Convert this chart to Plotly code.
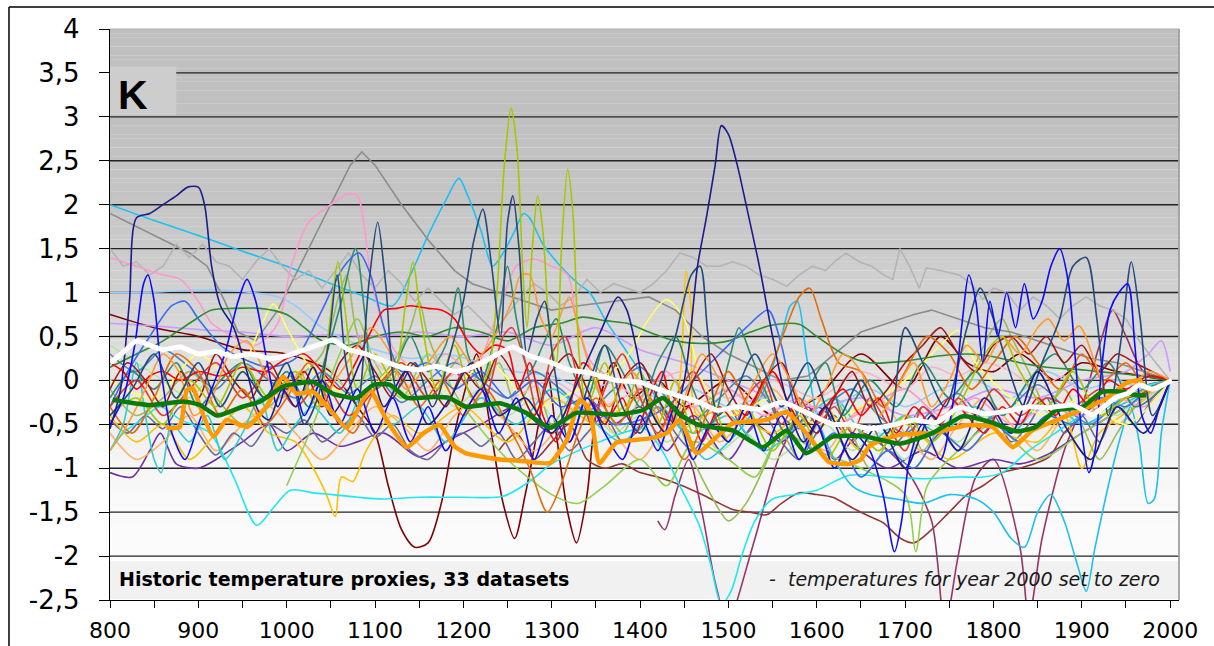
import numpy as np
import plotly.graph_objects as go

# ---------------- axes ----------------
X_TICKS = [800, 850, 900, 950, 1000, 1050, 1100, 1150, 1200, 1250, 1300, 1350, 1400,
           1450, 1500, 1550, 1600, 1650, 1700, 1750, 1800, 1850, 1900, 1950, 2000]
X_TICK_TEXT = ['800', '', '900', '', '1000', '', '1100', '', '1200', '', '1300', '', '1400',
               '', '1500', '', '1600', '', '1700', '', '1800', '', '1900', '', '2000']
Y_TICKS = [-2.5, -2, -1.5, -1, -0.5, 0, 0.5, 1, 1.5, 2, 2.5, 3, 3.5, 4]
Y_TICK_TEXT = ['-2,5', '-2', '-1,5', '-1', '-0,5', '0', '0,5', '1', '1,5', '2', '2,5', '3', '3,5', '4']

# ---------------- proxy series (year, anomaly K) ----------------
navy = [(800,-0.55),(812,-0.1),(822,0.9),(830,1.85),(845,1.9),(860,2.0),(875,2.1),(888,2.2),(900,2.2),
        (907,2.0),(915,1.3),(925,0.85),(940,0.6),(955,0.1),(968,-0.35),(980,-0.45),(995,-0.1),(1010,-0.3),
        (1030,0.15),(1050,-0.4),(1070,-0.1),(1090,0.3),(1110,-0.3),(1135,0.1),(1160,-0.5),(1185,-0.2),
        (1210,0.2),(1240,-0.4),(1270,-0.2),(1300,-0.6),(1330,0.0),(1355,0.55),(1375,0.95),(1385,0.8),
        (1395,0.4),(1410,-0.3),(1430,-0.6),(1450,0.0),(1465,1.3),(1475,1.85),(1485,2.45),(1492,2.9),
        (1500,2.8),(1510,2.45),(1520,2.0),(1535,1.3),(1550,0.5),(1565,-0.2),(1585,-0.7),(1610,-0.3),
        (1640,-0.9),(1670,-0.5),(1700,-1.0),(1730,-0.4),(1760,-0.8),(1790,-0.2),(1820,-0.6),(1850,0.1),
        (1880,-0.5),(1910,-0.9),(1940,-0.3),(1970,-0.6),(2000,0.0)]
slate = [(800,-0.4),(825,-0.1),(850,0.3),(875,-0.2),(900,0.2),(925,-0.3),(950,0.1),(975,-0.2),(1000,0.2),
         (1020,-0.5),(1035,-0.2),(1047,0.4),(1057,1.2),(1067,0.2),(1080,-0.3),(1093,1.1),(1103,1.8),(1112,1.1),
         (1125,-0.1),(1145,0.2),(1165,-0.3),(1185,0.3),(1200,0.9),(1212,1.6),(1222,1.95),(1232,1.3),(1242,0.5),
         (1250,1.8),(1256,2.1),(1263,1.5),(1272,0.3),(1283,0.7),(1292,0.9),(1302,0.2),(1320,-0.7),(1340,-0.1),
         (1360,0.4),(1380,-0.3),(1400,-0.6),(1420,-0.1),(1440,0.5),(1458,1.2),(1468,1.3),(1476,0.6),(1488,-0.4),
         (1505,-0.2),(1530,0.3),(1560,-0.3),(1590,0.2),(1620,-0.5),(1650,0.0),(1680,-0.6),(1700,0.6),(1720,0.2),
         (1745,-0.3),(1770,0.6),(1785,1.05),(1800,0.7),(1815,0.2),(1835,-0.3),(1855,0.2),(1875,0.7),(1890,1.3),
         (1905,1.4),(1917,0.7),(1930,-0.4),(1945,0.5),(1956,1.35),(1966,0.7),(1980,-0.4),(2000,0.0)]
blue = [(800,-0.5),(815,-0.2),(828,0.4),(838,1.1),(843,1.2),(850,0.9),(858,0.1),(870,-0.6),(885,-0.9),(900,-0.5),
        (915,-0.1),(930,0.3),(945,0.9),(955,1.15),(965,0.9),(978,0.2),(990,-0.3),(1005,0.1),(1020,-0.4),(1040,0.0),
        (1060,-0.5),(1080,-0.1),(1100,-0.6),(1120,-0.2),(1140,-0.7),(1160,-0.3),(1180,-0.8),(1200,-0.4),(1220,-0.1),
        (1240,-0.6),(1260,-0.2),(1280,-0.9),(1300,-0.4),(1320,-0.7),(1340,-0.2),(1360,-0.6),(1380,-0.9),(1400,-0.4),
        (1420,-0.8),(1440,-0.3),(1460,-0.9),(1480,-0.5),(1500,-0.7),(1520,-0.3),(1540,-0.8),(1560,-0.4),(1580,-0.9),
        (1600,-0.5),(1620,-1.0),(1640,-0.6),(1660,-0.8),(1675,-1.3),(1688,-1.95),(1696,-1.6),(1705,-0.9),(1720,-0.5),
        (1740,-0.9),(1755,-0.2),(1765,0.7),(1772,1.2),(1780,0.9),(1788,0.2),(1796,0.9),(1805,0.5),(1815,1.0),
        (1825,0.6),(1835,1.1),(1845,0.7),(1855,0.9),(1865,1.3),(1875,1.5),(1885,1.1),(1893,0.2),(1900,-0.6),
        (1908,-1.05),(1915,-0.8),(1922,0.1),(1932,0.8),(1942,1.0),(1952,1.1),(1960,0.4),(1968,-0.4),(1978,-0.6),
        (1988,-0.3),(2000,0.0)]
royal = [(800,-0.3),(820,0.1),(845,0.5),(870,0.85),(885,0.9),(900,0.7),(925,0.4),(950,0.25),(980,0.15),(1010,0.25),
         (1040,0.8),(1065,1.3),(1082,1.45),(1095,1.2),(1110,0.6),(1130,0.1),(1160,0.2),(1190,-0.1),(1220,0.1),
         (1250,-0.2),(1280,0.0),(1310,-0.3),(1340,-0.2),(1370,-0.5),(1400,-0.45),(1430,-0.3),(1460,0.0),(1490,0.3),
         (1520,0.6),(1545,0.8),(1560,0.4),(1575,-0.3),(1595,-0.8),(1620,-0.6),(1650,-1.1),(1680,-0.8),(1710,-1.0),
         (1740,-0.6),(1770,-0.8),(1800,-0.5),(1830,-0.7),(1860,-0.4),(1890,-0.5),(1920,-0.2),(1950,-0.3),
         (1975,-0.1),(2000,0.0)]
silver = [(800,1.5),(815,1.3),(830,1.35),(845,1.2),(860,1.3),(875,1.55),(890,1.4),(905,1.55),(920,1.35),(935,1.3),
          (950,1.15),(965,1.35),(980,1.5),(995,1.3),(1010,1.15),(1025,1.25),(1040,1.05),(1055,1.25),(1070,1.45),
          (1085,1.2),(1100,1.05),(1115,1.25),(1130,1.1),(1145,0.9),(1160,1.05),(1175,0.9),(1190,0.75),(1205,0.85),
          (1220,0.7),(1235,0.55),(1250,0.75),(1265,0.95),(1280,1.1),(1295,1.0),(1310,0.85),(1325,0.95),(1340,1.15),
          (1355,1.0),(1370,1.1),(1385,1.05),(1400,1.0),(1415,1.1),(1430,1.25),(1445,1.45),(1460,1.4),(1475,1.3),
          (1490,1.3),(1505,1.35),(1520,1.3),(1535,1.2),(1550,1.15),(1566,1.07),(1580,1.2),(1595,1.3),(1610,1.25),
          (1620,1.35),(1633,1.45),(1648,1.35),(1662,1.3),(1676,1.2),(1686,1.15),(1694,1.5),(1705,1.3),(1716,1.05),
          (1724,1.28),(1740,1.25),(1761,1.2),(1775,1.1),(1788,0.92),(1800,1.05),(1815,1.0),(1830,0.8),(1845,0.95),
          (1860,0.85),(1875,0.7),(1890,0.85),(1905,0.95),(1920,0.85),(1935,0.8),(1950,0.7),(1965,0.45),
          (1980,0.25),(2000,0.0)]
gray = [(800,1.9),(830,1.75),(860,1.6),(890,1.45),(910,1.3),(930,0.9),(945,0.55),(965,0.45),(990,0.8),(1020,1.4),
        (1050,2.0),(1072,2.45),(1085,2.6),(1100,2.45),(1130,2.0),(1160,1.6),(1190,1.25),(1210,1.1),(1240,1.0),
        (1270,0.9),(1300,0.8),(1330,0.85),(1370,0.9),(1410,0.95),(1440,0.8),(1470,0.5),(1500,0.3),(1530,0.15),
        (1560,0.0),(1590,0.05),(1620,0.3),(1650,0.55),(1680,0.65),(1710,0.75),(1730,0.8),(1760,0.7),(1790,0.6),
        (1820,0.55),(1850,0.45),(1880,0.35),(1910,0.25),(1940,0.2),(1970,0.1),(2000,0.0)]
pink = [(800,1.4),(830,1.3),(860,1.2),(880,1.15),(900,0.9),(915,0.65),(940,0.5),(965,0.4),(990,0.65),(1005,1.3),
        (1025,1.8),(1050,2.0),(1068,2.12),(1080,2.1),(1095,1.2),(1110,0.6),(1125,0.3),(1150,0.1),(1180,0.3),
        (1210,0.1),(1240,0.8),(1260,1.3),(1280,1.38),(1300,1.3),(1318,1.2),(1328,0.7),(1345,0.2),(1370,0.0),
        (1400,-0.2),(1430,0.1),(1460,-0.3),(1500,-0.1),(1540,-0.4),(1580,-0.2),(1620,-0.5),(1660,-0.3),(1700,-0.1),
        (1740,-0.4),(1780,-0.2),(1820,-0.5),(1860,-0.3),(1900,-0.4),(1940,-0.2),(1970,-0.3),(2000,0.0)]
yellowgreen = [(800,-0.4),(830,-0.2),(860,-0.5),(890,0.0),(920,-0.3),(950,0.2),(980,-0.2),(1010,0.1),(1035,-0.3),
               (1048,0.6),(1058,1.35),(1066,0.8),(1080,-0.1),(1100,0.3),(1120,0.0),(1135,0.9),(1143,1.35),(1152,0.7),
               (1170,-0.1),(1190,0.4),(1210,-0.2),(1228,0.1),(1238,1.0),(1246,2.4),(1254,3.1),(1261,2.6),(1267,1.3),
               (1272,0.6),(1278,1.5),(1284,2.1),(1290,1.7),(1298,0.5),(1305,0.2),(1311,1.5),(1318,2.4),(1324,1.9),
               (1331,0.3),(1340,-0.3),(1360,0.2),(1380,-0.4),(1400,0.1),(1420,-0.5),(1440,0.0),(1460,-0.6),(1480,-0.2),
               (1500,-0.7),(1520,-0.3),(1550,-0.8),(1580,-0.4),(1610,-0.9),(1640,-0.5),(1670,-0.8),(1700,-0.4),
               (1730,-0.7),(1760,-0.3),(1790,0.3),(1810,0.5),(1830,0.1),(1860,-0.3),(1890,0.1),(1920,-0.4),
               (1950,-0.2),(2000,0.0)]
green = [(800,0.15),(830,0.3),(860,0.45),(890,0.65),(915,0.8),(940,0.82),(970,0.82),(1000,0.75),(1020,0.6),
         (1040,0.45),(1070,0.4),(1100,0.5),(1130,0.55),(1160,0.5),(1190,0.6),(1220,0.55),(1250,0.45),(1280,0.6),
         (1310,0.65),(1335,0.72),(1360,0.68),(1385,0.65),(1410,0.55),(1440,0.45),(1470,0.42),(1500,0.45),
         (1525,0.55),(1550,0.63),(1580,0.64),(1600,0.5),(1630,0.3),(1660,0.2),(1700,0.22),(1740,0.28),(1770,0.3),
         (1800,0.27),(1830,0.2),(1860,0.15),(1900,0.12),(1940,0.08),(1975,0.04),(2000,0.0)]
seagreen = [(800,-0.2),(825,0.1),(850,-0.1),(875,0.2),(900,-0.3),(925,0.0),(950,0.2),(975,-0.2),(1000,0.1),
            (1025,-0.3),(1045,0.3),(1062,0.9),(1078,1.5),(1088,0.8),(1100,-0.1),(1120,0.1),(1140,0.5),(1160,0.1),
            (1180,0.4),(1194,1.05),(1205,0.3),(1220,0.0),(1238,0.6),(1250,1.3),(1260,0.7),(1275,0.1),(1290,0.4),
            (1305,0.7),(1320,0.2),(1340,-0.2),(1360,0.4),(1380,0.1),(1400,-0.3),(1420,0.2),(1440,0.5),(1460,-0.1),
            (1480,-0.5),(1500,0.2),(1512,0.6),(1525,0.3),(1545,-0.2),(1565,-0.6),(1590,-0.1),(1610,0.2),(1630,-0.4),
            (1660,0.0),(1690,-0.3),(1720,0.2),(1750,-0.2),(1780,0.1),(1810,-0.4),(1840,0.0),(1870,0.3),(1900,-0.1),
            (1930,0.2),(1960,-0.3),(2000,0.0)]
orange = [(800,-0.8),(820,-0.5),(840,-0.1),(860,0.3),(878,0.1),(895,-0.4),(915,-0.2),(935,0.3),(955,0.45),(975,0.1),
          (995,-0.2),(1015,0.1),(1035,-0.3),(1055,0.0),(1075,0.3),(1095,0.6),(1115,0.35),(1135,-0.1),(1160,0.2),
          (1185,0.5),(1210,0.2),(1235,0.5),(1255,0.9),(1265,1.2),(1275,1.2),(1288,0.7),(1300,0.5),(1312,0.8),
          (1320,0.95),(1330,0.6),(1345,0.1),(1365,-0.3),(1390,0.1),(1410,-0.2),(1430,-0.6),(1450,-0.2),(1470,0.3),
          (1490,0.0),(1510,-0.4),(1530,0.0),(1550,0.3),(1570,0.0),(1590,-0.4),(1610,-0.1),(1630,0.3),(1650,0.1),
          (1670,-0.4),(1690,-0.1),(1710,0.2),(1730,-0.3),(1750,0.0),(1770,0.4),(1790,0.2),(1810,0.5),(1830,0.3),
          (1850,0.6),(1862,0.7),(1880,0.45),(1897,0.62),(1915,0.2),(1935,-0.3),(1955,-0.1),(1975,0.1),(2000,0.0)]
darkorange = [(800,-0.3),(825,-0.6),(850,-0.2),(875,0.3),(900,0.1),(925,-0.4),(950,-0.1),(975,-0.5),(1000,-0.2),
              (1025,0.2),(1050,-0.3),(1075,-0.6),(1100,-0.1),(1125,0.1),(1150,-0.3),(1175,0.0),(1200,-0.4),
              (1225,-0.1),(1250,-0.5),(1275,-1.0),(1295,-1.5),(1310,-1.2),(1330,-0.6),(1350,-0.2),(1375,-0.5),
              (1400,-0.1),(1425,-0.4),(1450,-0.9),(1475,-0.4),(1500,0.1),(1525,-0.3),(1550,0.2),(1565,0.6),
              (1580,0.95),(1592,1.05),(1605,0.7),(1625,0.2),(1650,0.1),(1675,-0.3),(1700,0.1),(1725,0.5),(1750,0.3),
              (1775,-0.1),(1800,0.2),(1825,0.5),(1850,0.2),(1875,-0.1),(1900,0.3),(1925,0.0),(1950,0.2),
              (1975,-0.1),(2000,0.0)]
gold = [(800,-0.4),(830,-0.7),(860,-0.5),(890,-0.9),(920,-0.6),(950,-0.3),(980,-0.6),(1010,-0.7),(1030,-1.0),
        (1045,-1.3),(1055,-1.55),(1062,-1.1),(1075,-1.15),(1090,-0.8),(1120,-0.4),(1150,-0.6),(1200,-0.3),
        (1250,-0.7),(1300,-0.2),(1350,-0.5),(1400,-0.2),(1430,-0.6),(1445,0.0),(1452,1.25),(1458,0.8),(1465,-0.4),
        (1500,-0.3),(1550,-0.6),(1600,-0.2),(1650,-0.8),(1700,-0.5),(1750,-0.9),(1800,-0.6),(1850,-0.7),
        (1880,-0.4),(1900,-1.0),(1920,-0.6),(1960,-0.3),(2000,0.0)]
yellow = [(800,0.0),(850,-0.2),(900,0.3),(940,0.0),(970,0.6),(985,0.87),(1000,0.6),(1030,0.1),(1080,-0.2),
          (1130,0.2),(1180,-0.1),(1230,0.2),(1280,-0.3),(1330,-0.1),(1380,0.2),(1410,0.7),(1430,0.92),(1450,0.7),
          (1470,0.0),(1500,-0.4),(1550,-0.2),(1600,-0.5),(1650,-0.3),(1700,0.0),(1740,0.4),(1760,0.57),(1780,0.2),
          (1820,-0.2),(1860,-0.4),(1900,-0.2),(1950,-0.5),(2000,0.0)]
red = [(800,0.2),(815,0.1),(830,-0.1),(845,0.05),(860,0.1),(880,0.0),(900,0.1),(925,0.05),(950,0.15),(975,0.1),
       (1000,0.25),(1020,0.3),(1040,0.1),(1060,-0.1),(1078,0.2),(1095,0.55),(1110,0.8),(1125,0.82),(1140,0.85),
       (1160,0.82),(1175,0.8),(1190,0.7),(1205,0.45),(1220,0.3),(1235,0.4),(1250,0.35),(1262,-0.1),(1275,0.2),
       (1290,-0.4),(1305,-0.7),(1320,-0.3),(1335,0.2),(1350,0.05),(1365,-0.4),(1380,-0.2),(1395,-0.6),(1410,-0.2),
       (1425,0.1),(1440,-0.5),(1455,-0.3),(1470,-0.7),(1490,-0.3),(1510,-0.5),(1530,-0.2),(1550,0.1),(1570,-0.3),
       (1590,-0.6),(1610,-0.3),(1630,-0.1),(1650,-0.4),(1670,-0.2),(1690,-0.6),(1710,-0.3),(1730,-0.5),(1750,-0.2),
       (1770,-0.4),(1790,-0.6),(1810,-0.3),(1830,-0.5),(1850,-0.2),(1870,-0.4),(1890,-0.1),(1910,-0.3),(1930,0.0),
       (1950,-0.1),(1975,0.05),(2000,0.0)]
maroon = [(800,0.75),(850,0.6),(900,0.5),(950,0.35),(1000,0.3),(1050,0.1),(1080,-0.3),(1100,-0.6),(1115,-1.2),
          (1130,-1.7),(1145,-1.9),(1160,-1.85),(1175,-1.4),(1190,-0.6),(1205,0.0),(1215,0.3),(1230,-0.5),
          (1245,-1.4),(1258,-1.8),(1270,-1.3),(1285,-0.5),(1295,0.1),(1305,-0.6),(1318,-1.5),(1328,-1.85),
          (1340,-1.3),(1350,-0.4),(1370,0.2),(1390,-0.2),(1420,0.0),(1450,-0.3),(1500,0.0),(1550,-0.4),(1600,-0.2),
          (1650,0.3),(1700,-0.1),(1740,0.5),(1770,0.2),(1800,0.1),(1830,0.3),(1870,0.0),(1900,0.2),(1940,0.1),
          (2000,0.0)]
brown = [(1240,-0.8),(1260,-0.6),(1280,-0.9),(1300,-0.7),(1320,-0.5),(1340,-0.9),(1360,-1.0),(1380,-0.95),
         (1400,-1.05),(1420,-1.1),(1448,-1.2),(1470,-1.3),(1490,-1.4),(1505,-1.47),(1525,-1.5),(1543,-1.53),
         (1560,-1.4),(1580,-1.28),(1600,-1.3),(1618,-1.33),(1640,-1.45),(1660,-1.55),(1675,-1.62),(1695,-1.8),
         (1710,-1.85),(1730,-1.7),(1750,-1.5),(1770,-1.3),(1788,-1.2),(1810,-1.05),(1830,-1.0),(1863,-0.87),
         (1880,-0.6),(1900,-0.4),(1920,-0.25),(1950,-0.15),(1975,-0.05),(2000,0.0)]
purple = [(800,-1.05),(825,-1.1),(845,-0.8),(857,-0.6),(875,-0.95),(900,-1.0),(920,-0.9),(950,-0.7),(980,-0.5),
          (1000,-0.8),(1030,-0.6),(1060,-0.75),(1080,-0.7),(1110,-0.6),(1150,-0.87),(1180,-0.7),(1220,-0.5),
          (1260,-0.3),(1300,-0.6),(1340,-0.2),(1370,-0.5),(1400,-0.3),(1430,-0.8),(1460,-0.4),(1500,-0.9),
          (1530,-0.5),(1560,-0.7),(1600,-0.3),(1640,-0.7),(1680,-1.0),(1720,-0.8),(1760,-1.0),(1800,-0.9),
          (1830,-0.95),(1860,-0.85),(1900,-0.6),(1950,-0.3),(2000,0.0)]
plum = [(1420,-1.6),(1428,-1.7),(1440,-1.3),(1455,-0.9),(1470,-1.5),(1485,-2.3),(1500,-2.8),(1510,-2.5),
        (1530,-1.8),(1560,-0.8),(1590,-0.3),(1620,-0.9),(1650,-0.6),(1700,-1.0),(1730,-1.6),(1745,-2.8),
        (1760,-2.0),(1780,-1.1),(1800,-0.9),(1830,-1.9),(1840,-2.7),(1855,-1.8),(1880,-0.8),(1900,-0.3),
        (1920,0.4),(1935,0.8),(1950,0.5),(1970,0.1),(2000,0.0)]
lavender = [(800,0.65),(850,0.62),(900,0.58),(950,0.55),(1000,0.5),(1050,0.52),(1100,0.5),(1150,0.55),(1200,0.5),
            (1250,0.55),(1300,0.4),(1350,0.6),(1400,0.35),(1450,0.2),(1500,0.0),(1550,-0.2),(1600,-0.3),
            (1650,-0.2),(1700,-0.4),(1750,-0.3),(1800,-0.1),(1850,-0.2),(1900,0.0),(1950,0.1),(1975,0.3),
            (1990,0.45),(2000,0.1)]
lightblue = [(800,1.0),(840,1.0),(880,1.02),(920,1.03),(960,1.0),(990,0.95),(1010,0.85),(1040,0.6),(1070,0.45),
             (1100,0.35),(1140,0.25),(1180,0.3),(1220,0.2),(1260,0.1),(1300,0.05),(1340,-0.1),(1380,0.0),
             (1420,-0.2),(1460,-0.1),(1500,-0.3),(1540,-0.2),(1580,-0.4),(1620,-0.3),(1660,-0.1),(1700,-0.3),
             (1740,-0.1),(1780,0.0),(1820,-0.2),(1860,0.1),(1900,-0.1),(1940,0.0),(1970,-0.1),(2000,0.0)]
teal = [(800,-0.8),(815,-0.5),(830,0.2),(840,-0.4),(850,-0.9),(858,-1.05),(870,-0.5),(890,-0.7),(910,-0.4),
        (930,-0.9),(950,-0.6),(970,-0.2),(990,-0.8),(1010,-0.5),(1030,-0.3),(1060,-0.6),(1090,-0.1),(1120,-0.5),
        (1150,-0.3),(1180,-0.7),(1220,-0.2),(1260,-0.5),(1300,-0.1),(1340,-0.4),(1380,-0.7),(1420,-0.3),
        (1460,-0.6),(1500,-0.4),(1540,-0.8),(1580,-0.5),(1620,-0.2),(1660,-0.7),(1700,-0.4),(1740,-0.6),
        (1780,-0.3),(1820,-0.6),(1860,-0.2),(1900,-0.5),(1940,-0.3),(2000,0.0)]
aqua = [(800,-0.8),(815,-0.6),(835,-0.45),(857,-0.3),(880,-0.45),(913,-0.6),(940,-1.1),(966,-1.65),(985,-1.45),
        (1004,-1.25),(1030,-1.28),(1052,-1.3),(1080,-1.33),(1110,-1.35),(1150,-1.33),(1200,-1.33),(1245,-1.32),
        (1275,-1.15),(1300,-0.95),(1330,-0.8),(1354,-0.7),(1380,-0.6),(1405,-0.55),(1425,-0.8),(1445,-1.2),
        (1467,-1.65),(1480,-2.1),(1492,-2.55),(1503,-2.4),(1515,-2.0),(1530,-1.6),(1550,-1.35),(1575,-1.3),
        (1600,-1.25),(1637,-1.08),(1680,-1.1),(1720,-1.12),(1760,-1.1),(1788,-1.1),(1810,-1.05),(1840,-0.8),
        (1870,-0.6),(1900,-0.4),(1930,-0.3),(1960,-0.1),(2000,0.0)]
skyblue = [(800,2.0),(850,1.82),(900,1.65),(950,1.47),(1000,1.3),(1050,1.1),(1090,0.95),(1120,0.85),(1140,1.2),
           (1160,1.65),(1180,2.05),(1195,2.3),(1205,2.1),(1220,1.7),(1233,1.3),(1245,1.45),(1258,1.7),(1268,1.9),
           (1275,1.85),(1290,1.55),(1310,1.3),(1330,1.1),(1343,1.0),(1360,0.7),(1380,0.4),(1400,0.1),(1425,-0.3),
           (1450,-0.6),(1475,-0.9),(1500,-0.7),(1525,-0.4),(1545,0.0),(1560,0.5),(1570,0.85),(1578,0.9),(1588,0.3),
           (1600,-0.4),(1620,-0.9),(1640,-1.2),(1660,-1.3),(1690,-1.35),(1720,-1.4),(1750,-1.3),(1780,-1.35),
           (1800,-1.5),(1820,-1.8),(1835,-1.9),(1850,-1.5),(1865,-1.3),(1880,-1.6),(1895,-2.1),(1905,-2.4),
           (1915,-1.9),(1930,-1.2),(1945,-0.6),(1955,-0.3),(1965,-0.7),(1975,-1.4),(1982,-1.35),(1990,-0.6),
           (2000,0.0)]
lime = [(1000,-1.2),(1030,-0.5),(1060,0.3),(1080,0.7),(1100,0.2),(1130,-0.2),(1160,0.3),(1200,-0.3),(1250,-0.9),
        (1300,-1.3),(1330,-1.4),(1360,-1.2),(1400,-0.9),(1430,-1.2),(1460,-0.7),(1500,-0.9),(1530,-1.1),
        (1560,-0.6),(1600,-0.8),(1650,-1.0),(1700,-1.3),(1712,-1.95),(1725,-1.2),(1760,-0.8),(1800,-0.5),
        (1850,-0.9),(1900,-0.6),(1950,-0.3),(2000,0.0)]
palegreen = [(800,0.4),(830,0.2),(860,0.0),(890,-0.2),(920,0.1),(950,-0.1),(980,-0.3),(1010,0.0),(1040,0.2),
             (1070,-0.1),(1100,0.1),(1130,-0.2),(1160,0.0),(1190,-0.3),(1220,-0.1),(1250,-0.4),(1280,-0.2),
             (1310,-0.5),(1340,-0.3),(1370,-0.6),(1400,-0.4),(1430,-0.7),(1460,-0.5),(1490,-0.8),(1520,-0.6),
             (1550,-0.9),(1580,-0.7),(1610,-0.5),(1640,-0.8),(1670,-0.6),(1700,-0.9),(1730,-0.5),(1760,-0.7),
             (1790,-0.4),(1820,-0.6),(1850,-0.3),(1880,-0.5),(1910,-0.2),(1940,-0.4),(1970,-0.1),(2000,0.0)]
slategray = [(800,-0.45),(820,-0.6),(840,-0.4),(860,-0.55),(880,-0.3),(900,-0.6),(920,-0.85),(940,-0.6),
             (960,-0.75),(980,-0.5),(1000,-0.6),(1020,-0.45),(1040,-0.7),(1060,-0.55),(1080,-0.4),(1100,-0.65),
             (1120,-0.5),(1140,-0.8),(1160,-0.9),(1180,-0.7),(1200,-0.6),(1220,-0.75),(1240,-0.6),(1260,-0.9),
             (1280,-0.7),(1300,-0.5),(1320,-0.8),(1340,-0.6),(1360,-0.4),(1380,-0.7),(1400,-0.55),(1420,-0.3),
             (1440,-0.6),(1460,-0.8),(1480,-0.5),(1500,-0.3),(1520,-0.6),(1540,-0.4),(1560,-0.7),(1580,-0.9),
             (1600,-0.6),(1620,-0.4),(1640,-0.7),(1660,-0.5),(1680,-0.8),(1700,-0.6),(1720,-0.3),(1740,-0.5),
             (1760,-0.8),(1780,-0.6),(1800,-0.4),(1820,-0.7),(1840,-0.5),(1860,-0.2),(1880,-0.6),(1900,-0.4),
             (1920,-0.7),(1940,-0.3),(1960,-0.5),(1980,-0.2),(2000,0.0)]
darkred = [(800,-0.1),(820,0.2),(840,0.0),(860,-0.3),(880,0.1),(900,-0.2),(920,0.3),(940,0.0),(960,-0.2),
           (980,0.2),(1000,-0.1),(1020,0.1),(1040,-0.3),(1060,0.2),(1080,0.4),(1100,0.1),(1120,-0.2),(1140,0.2),
           (1160,0.0),(1180,-0.3),(1200,0.1),(1220,-0.1),(1240,0.3),(1260,0.0),(1280,-0.4),(1300,0.1),(1320,0.3),
           (1340,-0.1),(1360,-0.5),(1380,0.0),(1400,0.2),(1420,-0.2),(1440,-0.5),(1460,0.0),(1480,0.3),(1500,-0.1),
           (1520,-0.4),(1540,0.0),(1560,0.2),(1580,-0.3),(1600,-0.6),(1620,-0.2),(1640,0.1),(1660,-0.3),
           (1680,-0.1),(1700,0.2),(1720,0.4),(1740,0.6),(1760,0.3),(1780,0.1),(1800,0.4),(1820,0.5),(1840,0.3),
           (1860,0.5),(1880,0.2),(1900,0.4),(1920,0.1),(1940,0.3),(1960,0.2),(1980,0.1),(2000,0.0)]
scarlet = [(800,-0.3),(830,0.0),(860,-0.4),(890,-0.1),(920,0.2),(950,-0.2),(980,0.1),(1010,-0.3),(1040,0.0),
           (1070,-0.4),(1100,-0.1),(1130,0.2),(1160,-0.2),(1190,0.1),(1220,-0.3),(1245,0.5),(1255,0.6),(1270,0.2),
           (1285,-0.4),(1300,0.3),(1315,0.5),(1330,0.0),(1345,-0.5),(1360,-0.1),(1380,0.3),(1400,-0.2),
           (1420,-0.6),(1440,-0.2),(1460,0.1),(1480,-0.3),(1500,-0.7),(1520,-0.2),(1540,0.0),(1560,-0.5),
           (1580,-0.2),(1600,-0.5),(1620,-0.3),(1640,-0.6),(1660,-0.2),(1680,-0.5),(1700,-0.8),(1720,-0.3),
           (1740,-0.5),(1760,-0.2),(1780,-0.4),(1800,-0.1),(1830,-0.4),(1860,-0.2),(1890,-0.3),(1920,-0.1),
           (1950,-0.2),(1980,-0.1),(2000,0.0)]
apricot = [(800,-0.6),(830,-0.9),(860,-0.7),(890,-0.4),(920,-0.8),(950,-0.5),(980,-0.3),(1010,-0.6),(1040,-0.9),
           (1070,-0.6),(1100,-0.3),(1130,-0.5),(1160,-0.8),(1190,-0.4),(1220,-0.2),(1250,-0.5),(1280,-0.8),
           (1310,-0.5),(1340,-0.2),(1370,-0.6),(1400,-0.9),(1430,-0.5),(1460,-0.3),(1490,-0.7),(1520,-0.4),
           (1550,-0.1),(1580,-0.5),(1610,-0.8),(1640,-0.4),(1670,-0.2),(1700,-0.6),(1730,-0.9),(1760,-0.5),
           (1790,-0.2),(1820,-0.5),(1850,-0.8),(1880,-0.4),(1910,-0.2),(1940,-0.5),(1970,-0.2),(2000,0.0)]
olive = [(800,-0.1),(830,-0.4),(860,-0.2),(890,0.1),(920,-0.2),(950,-0.5),(980,-0.3),(1010,0.0),(1040,0.3),
         (1060,1.0),(1068,1.2),(1078,0.6),(1100,0.0),(1120,0.2),(1140,0.6),(1150,0.9),(1160,0.5),(1180,0.1),
         (1200,0.3),(1220,-0.1),(1240,0.2),(1260,-0.3),(1280,0.0),(1300,-0.5),(1320,-0.2),(1340,0.1),(1360,-0.3),
         (1380,-0.6),(1400,-0.2),(1420,0.0),(1440,-0.4),(1460,-0.9),(1480,-1.3),(1500,-1.6),(1520,-1.4),
         (1540,-1.0),(1560,-0.6),(1580,-0.9),(1600,-0.5),(1620,-0.2),(1640,-0.6),(1660,-1.0),(1680,-0.7),
         (1700,-0.4),(1720,-0.8),(1740,-0.5),(1760,-0.2),(1780,0.2),(1800,0.6),(1810,0.7),(1820,0.5),(1840,0.1),
         (1860,-0.3),(1880,-0.1),(1900,-0.5),(1920,-0.9),(1940,-0.6),(1960,-0.3),(1980,-0.1),(2000,0.0)]
rose = [(1100,0.2),(1150,-0.1),(1200,0.1),(1250,-0.2),(1300,0.0),(1350,-0.3),(1400,-0.1),(1450,0.1),(1500,-0.2),
        (1550,0.0),(1600,-0.2),(1650,0.1),(1700,-0.1),(1730,0.15),(1760,0.05),(1790,0.2),(1820,0.1),(1850,-0.1),
        (1880,0.05),(1910,-0.3),(1940,-0.1),(1970,-0.2),(2000,0.0)]
steel = [(800,0.3),(830,0.1),(860,0.35),(890,0.15),(920,-0.1),(950,0.2),(980,0.0),(1010,-0.2),(1040,0.1),
         (1070,-0.15),(1100,0.05),(1130,-0.25),(1160,0.0),(1190,0.2),(1220,0.0),(1250,-0.2),(1280,0.1),(1310,-0.1),
         (1340,-0.35),(1370,-0.1),(1400,0.15),(1430,-0.2),(1460,-0.45),(1490,-0.2),(1520,0.05),(1550,-0.3),
         (1580,-0.55),(1610,-0.3),(1640,-0.1),(1670,-0.4),(1700,-0.6),(1730,-0.35),(1760,-0.15),(1790,-0.45),
         (1820,-0.3),(1850,-0.05),(1880,-0.3),(1910,-0.5),(1940,-0.25),(1970,-0.1),(2000,0.0)]

# ---------------- highlighted averages ----------------
orange_mean = [(864,-0.54),(879,-0.53),(887,-0.11),(894,-0.09),(902,-0.3),(917,-0.64),(932,-0.45),(955,-0.53),
               (977,-0.3),(996,0.04),(1011,-0.15),(1030,-0.13),(1052,-0.37),(1068,-0.54),(1094,-0.11),(1113,-0.45),
               (1136,-0.76),(1155,-0.6),(1173,-0.51),(1190,-0.75),(1203,-0.83),(1222,-0.87),(1241,-0.9),(1270,-0.92),
               (1298,-0.94),(1317,-0.68),(1332,-0.22),(1343,-0.34),(1354,-0.94),(1373,-0.71),(1411,-0.66),
               (1430,-0.6),(1445,-0.45),(1464,-0.83),(1487,-0.64),(1505,-0.49),(1543,-0.45),(1566,-0.36),
               (1588,-0.6),(1614,-0.93),(1637,-0.95),(1650,-0.9),(1660,-0.74),(1694,-0.62),(1731,-0.6),(1770,-0.51),
               (1799,-0.53),(1822,-0.76),(1844,-0.57),(1882,-0.41),(1908,-0.3),(1931,-0.19),(1950,-0.03),(1965,0.0),
               (1976,-0.11),(1991,-0.05),(2000,0.0)]
green_mean = [(803,-0.22),(845,-0.28),(883,-0.24),(902,-0.28),(921,-0.4),(950,-0.3),(970,-0.24),(996,-0.07),
              (1030,-0.02),(1052,-0.15),(1079,-0.2),(1098,-0.05),(1117,-0.05),(1136,-0.2),(1166,-0.19),(1184,-0.2),
              (1203,-0.3),(1241,-0.26),(1271,-0.37),(1298,-0.54),(1328,-0.37),(1373,-0.39),(1403,-0.34),(1426,-0.2),
              (1445,-0.39),(1467,-0.51),(1505,-0.57),(1539,-0.76),(1566,-0.57),(1588,-0.83),(1618,-0.64),
              (1637,-0.63),(1656,-0.64),(1694,-0.72),(1731,-0.6),(1765,-0.41),(1795,-0.47),(1826,-0.58),
              (1848,-0.53),(1871,-0.34),(1901,-0.3),(1923,-0.13),(1946,-0.13),(1962,-0.17),(1973,-0.17)]
white_mean = [(800,0.2),(815,0.32),(830,0.45),(845,0.4),(860,0.35),(880,0.38),(900,0.3),(920,0.33),(940,0.27),
              (960,0.3),(980,0.25),(1000,0.28),(1020,0.35),(1040,0.42),(1052,0.46),(1070,0.35),(1090,0.3),
              (1110,0.22),(1130,0.15),(1150,0.12),(1170,0.16),(1190,0.1),(1210,0.15),(1230,0.25),(1256,0.38),
              (1275,0.28),(1300,0.2),(1320,0.12),(1345,0.08),(1373,0.0),(1400,-0.02),(1420,-0.1),(1445,-0.18),
              (1467,-0.25),(1487,-0.34),(1510,-0.3),(1535,-0.33),(1561,-0.25),(1585,-0.35),(1618,-0.5),(1637,-0.5),
              (1660,-0.55),(1690,-0.5),(1710,-0.45),(1735,-0.48),(1761,-0.31),(1790,-0.38),(1815,-0.35),
              (1840,-0.3),(1863,-0.31),(1890,-0.28),(1912,-0.39),(1925,-0.3),(1939,-0.19),(1952,-0.15),
              (1965,-0.05),(1980,-0.1),(2002,0.0)]

# line colours and drawing style of the individual proxies
PROXY_STYLE = [
    (maroon, '#7f0000', 'spline'), (brown, '#943634', 'spline'), (plum, '#993366', 'spline'),
    (purple, '#7030a0', 'spline'), (apricot, '#ffb366', 'spline'), (palegreen, '#b4e6a0', 'spline'),
    (slategray, '#6b6b9a', 'spline'), (gold, '#ffc000', 'spline'), (lime, '#92d050', 'spline'),
    (olive, '#9bbb59', 'spline'), (aqua, '#1ee8f0', 'spline'), (teal, '#33cccc', 'spline'),
    (skyblue, '#1fc0f0', 'spline'), (lavender, '#cc99ff', 'spline'), (lightblue, '#99ccff', 'spline'),
    (rose, '#f4b6c8', 'spline'), (steel, '#4f81bd', 'spline'), (gray, '#8c8c8c', 'linear'),
    (silver, '#b4b4b4', 'linear'), (pink, '#ff99cc', 'spline'), (yellow, '#ffff66', 'spline'),
    (green, '#2e8b2e', 'spline'), (seagreen, '#2e8b6e', 'spline'), (royal, '#3a6cf0', 'spline'),
    (darkred, '#a01818', 'spline'), (scarlet, '#e03c31', 'spline'), (red, '#ff0000', 'spline'),
    (darkorange, '#e46c0a', 'spline'), (orange, '#ff9a2e', 'spline'), (yellowgreen, '#a5c800', 'spline'),
    (slate, '#254a7d', 'spline'), (blue, '#0a0aff', 'spline'), (navy, '#1c1c8a', 'spline'),
]

FONT = 'DejaVu Sans'
X_RANGE = [800, 2010]
Y_RANGE = [-2.5, 4]

fig = go.Figure()

for series, colour, shape in PROXY_STYLE:
    yrs = [p[0] for p in series]
    vals = [p[1] for p in series]
    fig.add_trace(go.Scatter(x=yrs, y=vals, mode='lines',
                             line=dict(color=colour, width=1.6, shape=shape, smoothing=0.8),
                             hoverinfo='skip', showlegend=False))

for series, colour, width in [(orange_mean, '#ff9900', 4.5), (green_mean, '#0a7a0a', 4.5),
                              (white_mean, '#ffffff', 5.0)]:
    fig.add_trace(go.Scatter(x=[p[0] for p in series], y=[p[1] for p in series], mode='lines',
                             line=dict(color=colour, width=width, shape='spline', smoothing=0.5),
                             hoverinfo='skip', showlegend=False))

shapes = []
# vertical grey gradient of the plot background
grad_v = [-2.5, -1.5, -1.0, -0.5, 0.0, 1.0, 2.0, 3.0, 4.0]
grad_g = [253, 250, 246, 238, 228, 209, 197, 192, 192]
edges = np.linspace(Y_RANGE[0], Y_RANGE[1], 131)
for lo, hi in zip(edges[:-1], edges[1:]):
    g = int(round(np.interp((lo + hi) / 2, grad_v, grad_g)))
    shapes.append(dict(type='rect', xref='x', yref='y', x0=X_RANGE[0], x1=X_RANGE[1], y0=lo, y1=hi + 0.002,
                       fillcolor=f'rgb({g},{g},{g})', line=dict(width=0), layer='below'))
# horizontal gridlines
for v in Y_TICKS[1:-1]:
    shapes.append(dict(type='line', xref='x', yref='y', x0=X_RANGE[0], x1=X_RANGE[1], y0=v, y1=v,
                       line=dict(color='#222222', width=1.4), layer='between'))
# unit box and caption strip
shapes.append(dict(type='rect', xref='x', yref='y', x0=800, x1=875, y0=3.02, y1=3.57,
                   fillcolor='#cdcdcd', line=dict(width=0), layer='between'))
shapes.append(dict(type='rect', xref='x', yref='y', x0=X_RANGE[0], x1=X_RANGE[1], y0=-2.49, y1=-2.06,
                   fillcolor='#f1f1f1', line=dict(width=0), layer='between'))
# grey frame on top and right of the plot area
shapes.append(dict(type='line', xref='paper', yref='paper', x0=0, x1=1, y0=1, y1=1,
                   line=dict(color='#b0b0b0', width=1.2), layer='above'))
shapes.append(dict(type='line', xref='paper', yref='paper', x0=1, x1=1, y0=0, y1=1,
                   line=dict(color='#a0a0a0', width=1.8), layer='above'))
# outer chart border
shapes.append(dict(type='line', xref='paper', yref='paper', x0=-0.0945, x1=-0.0945, y0=-0.2, y1=1.0385,
                   line=dict(color='#000000', width=1.5), layer='above'))
shapes.append(dict(type='line', xref='paper', yref='paper', x0=-0.0945, x1=1.2, y0=1.0385, y1=1.0385,
                   line=dict(color='#000000', width=1.5), layer='above'))

annotations = [
    dict(text='<b>K</b>', xref='paper', yref='paper', x=0.0055, y=0.885, xanchor='left', yanchor='middle',
         showarrow=False, font=dict(family='Liberation Sans', size=41, color='#000000')),
    dict(text='<b>Historic temperature proxies, 33 datasets</b>', xref='paper', yref='paper',
         x=0.0065, y=0.037, xanchor='left', yanchor='middle', showarrow=False,
         font=dict(family=FONT, size=19, color='#000000')),
    dict(text='<i>-  temperatures for year 2000 set to zero</i>', xref='paper', yref='paper',
         x=0.9845, y=0.037, xanchor='right', yanchor='middle', showarrow=False,
         font=dict(family=FONT, size=19, color='#1a1a1a')),
]

fig.update_layout(
    width=1214, height=646,
    margin=dict(l=110, r=35, t=29, b=46),
    paper_bgcolor='#ffffff', plot_bgcolor='#ffffff',
    shapes=shapes, annotations=annotations,
    xaxis=dict(range=X_RANGE, tickvals=X_TICKS, ticktext=X_TICK_TEXT, ticks='outside', ticklen=7,
               tickwidth=1.3, tickcolor='#000000', showgrid=False, zeroline=False, showline=True,
               linecolor='#000000', linewidth=1.4, tickfont=dict(family=FONT, size=22, color='#000000'),
               ticklabelstandoff=3, automargin=False, fixedrange=True),
    yaxis=dict(range=Y_RANGE, tickvals=Y_TICKS, ticktext=Y_TICK_TEXT, ticks='outside', ticklen=10,
               tickwidth=1.3, tickcolor='#000000', showgrid=False, zeroline=False, showline=True,
               linecolor='#000000', linewidth=1.4, tickfont=dict(family=FONT, size=26, color='#000000'),
               ticklabelstandoff=14, automargin=False, fixedrange=True),
)

fig.write_html('out.html')
